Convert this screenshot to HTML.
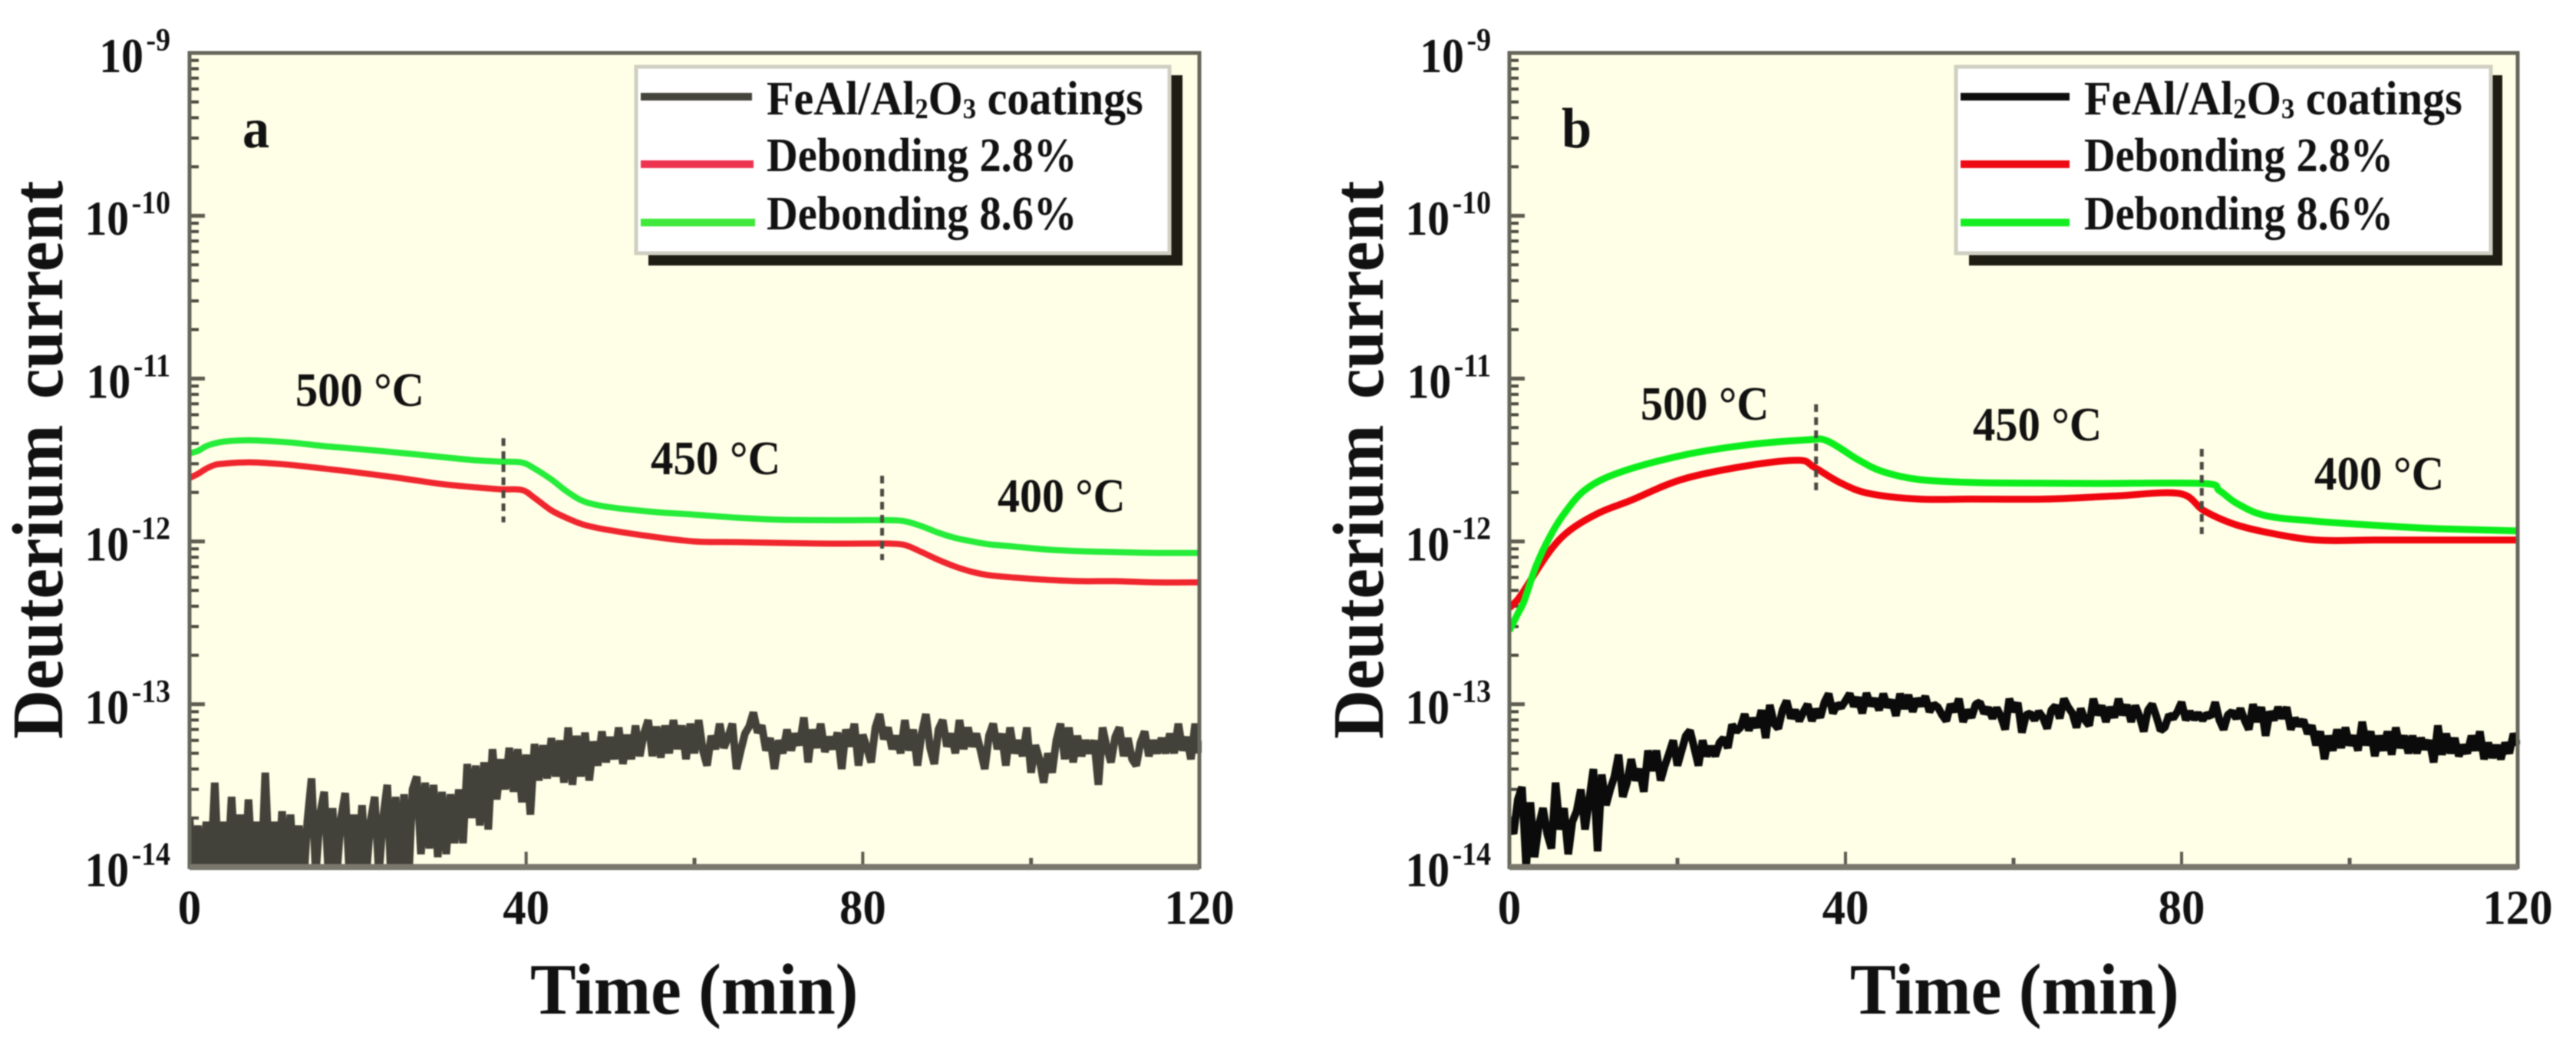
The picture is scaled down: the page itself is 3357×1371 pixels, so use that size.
<!DOCTYPE html>
<html lang="en">
<head>
<meta charset="utf-8">
<title>Deuterium current versus time</title>
<style>
html,body{margin:0;padding:0;background:#fff;width:3357px;height:1371px;overflow:hidden}
svg{display:block;filter:blur(0.9px)}
text{font-family:"Liberation Serif",serif;font-weight:bold;fill:#111}
</style>
</head>
<body>
<svg id="figure" xmlns="http://www.w3.org/2000/svg" width="3357" height="1371" viewBox="0 0 3357 1371">
  <rect x="0" y="0" width="3357" height="1371" fill="#fff"/>
  <g id="panel-a"></g>
  <g id="panel-b"></g>

  <g>
    <text transform="translate(316,192) scale(.95,1)" font-size="74">a</text>
    <text transform="translate(385,529) scale(.943,1)" font-size="62">500 °C</text>
    <text transform="translate(848,618) scale(.95,1)" font-size="62">450 °C</text>
    <text transform="translate(1300,667) scale(.935,1)" font-size="62">400 °C</text>
    <text transform="translate(81,963) rotate(-90) scale(.945,1)" font-size="94" word-spacing="12">Deuterium current</text>
    <text transform="translate(691,1321) scale(.95,1)" font-size="94">Time (min)</text>
  </g>
  <g>
    <rect x="845" y="98" width="696" height="248" fill="#1e1d14"/>
    <rect x="829" y="87" width="695" height="243" fill="#fff" stroke="#cfcfc2" stroke-width="5"/>
    <line x1="835" x2="980" y1="126" y2="126" stroke="#45443c" stroke-width="10"/>
    <line x1="835" x2="982" y1="214" y2="214" stroke="#ee3350" stroke-width="10"/>
    <line x1="835" x2="984" y1="290" y2="290" stroke="#3fe83a" stroke-width="10"/>
    <text transform="translate(999,149) scale(.936,1)" font-size="62">FeAl/Al<tspan font-size="37" dy="5">2</tspan><tspan dy="-5">O</tspan><tspan font-size="37" dy="5">3</tspan><tspan dy="-5"> coatings</tspan></text>
    <text transform="translate(999,223) scale(.91,1)" font-size="62">Debonding 2.8%</text>
    <text transform="translate(999,299) scale(.91,1)" font-size="62">Debonding 8.6%</text>
  </g>

  <g>
    <text transform="translate(2035,192) scale(.95,1)" font-size="74">b</text>
    <text transform="translate(2138,547) scale(.94,1)" font-size="62">500 °C</text>
    <text transform="translate(2571,574) scale(.945,1)" font-size="62">450 °C</text>
    <text transform="translate(3016,638) scale(.95,1)" font-size="62">400 °C</text>
    <text transform="translate(1802,963) rotate(-90) scale(.945,1)" font-size="94" word-spacing="12">Deuterium current</text>
    <text transform="translate(2411,1321) scale(.953,1)" font-size="94">Time (min)</text>
  </g>
  <g>
    <rect x="2566" y="98" width="695" height="248" fill="#1e1d14"/>
    <rect x="2549" y="87" width="697" height="243" fill="#fff" stroke="#cfcfc2" stroke-width="5"/>
    <line x1="2555" x2="2697" y1="126" y2="126" stroke="#0d0d0d" stroke-width="10"/>
    <line x1="2555" x2="2697" y1="214" y2="214" stroke="#ee0a14" stroke-width="10"/>
    <line x1="2555" x2="2697" y1="290" y2="290" stroke="#14ee20" stroke-width="10"/>
    <text transform="translate(2716,149) scale(.94,1)" font-size="62">FeAl/Al<tspan font-size="37" dy="5">2</tspan><tspan dy="-5">O</tspan><tspan font-size="37" dy="5">3</tspan><tspan dy="-5"> coatings</tspan></text>
    <text transform="translate(2716,223) scale(.907,1)" font-size="62">Debonding 2.8%</text>
    <text transform="translate(2716,299) scale(.907,1)" font-size="62">Debonding 8.6%</text>
  </g>
</svg>

<script>
// ---- axis data ----
var xMajorTicks = [0, 40, 80, 120];
var xMinorTicks = [20, 60, 100];
var yExponents = [-9, -10, -11, -12, -13, -14];
var yMinorMultipliers = [2, 3, 4, 5, 6, 7, 8, 9];

// ---- panel a: smooth curves (A) ----
var greenTimesA = [0,1,2,3,4,6,8,12,16,20,25,30,34,37,39.5,41,43,45,47,50,55,60,65,70,75,80,83,85,87,89,91,93,95,98,102,106,110,115,120];
var greenValuesA = [3.47,3.6,3.85,4.0,4.1,4.17,4.17,4.05,3.85,3.7,3.5,3.3,3.15,3.09,3.05,2.8,2.4,2.0,1.75,1.62,1.52,1.46,1.4,1.36,1.35,1.35,1.35,1.33,1.24,1.13,1.05,1.0,0.96,0.93,0.89,0.87,0.86,0.85,0.85];
var redTimesA = [0,1,2,3,4,6,8,12,16,20,25,30,34,37,39.5,41,43,45,47,50,55,60,65,70,75,80,83,85,87,89,91,93,95,98,102,106,110,115,120];
var redValuesA = [2.45,2.6,2.8,2.95,3.0,3.05,3.05,2.95,2.8,2.65,2.45,2.25,2.15,2.09,2.07,1.85,1.55,1.38,1.26,1.17,1.07,1.0,0.99,0.98,0.97,0.97,0.97,0.95,0.86,0.77,0.70,0.65,0.62,0.60,0.58,0.57,0.57,0.56,0.56];

// panel a coating signal, one reading per half minute, units of 1e-14
var coatingValuesA = [
2.0,0.9,1.8,0.8,1.9,0.9,3.3,0.8,1.9,0.9,
2.7,0.9,2.1,0.8,2.6,0.9,1.9,0.8,3.8,0.9,
1.9,0.8,2.2,0.9,2.1,0.8,1.8,0.7,1.9,3.5,
0.9,2.1,2.9,0.9,2.3,0.9,2.0,2.85,0.9,2.1,
0.9,2.4,0.9,1.9,2.7,0.9,2.0,3.2,0.7,2.7,
0.8,2.8,0.75,3.0,3.6,1.2,3.3,1.3,3.2,1.15,
2.9,1.2,2.8,1.4,3.0,1.4,4.3,2.0,4.2,1.8,
4.4,1.7,5.3,2.6,4.6,3.0,5.4,2.9,5.3,2.5,
4.9,2.1,5.7,3.4,5.6,3.5,6.2,3.6,6.0,3.3,
7.2,3.2,6.4,3.6,6.7,3.4,5.9,4.2,6.8,4.4,
6.3,4.6,7.2,4.3,6.5,4.6,7.4,4.8,6.6,8.0,
4.8,7.3,4.7,7.4,5.0,8.0,5.3,7.4,4.6,7.6,
5.0,8.0,5.2,4.2,6.4,5.3,7.6,5.4,6.3,7.6,
4.0,5.2,6.6,7.3,8.9,6.7,7.4,5.2,6.2,4.0,
6.0,5.0,7.0,5.2,6.6,5.6,8.3,4.4,7.0,5.4,
7.6,5.1,6.3,5.3,6.7,4.0,7.0,5.5,7.6,4.2,
6.5,5.4,4.4,7.2,8.7,6.1,7.2,5.3,6.4,5.0,
8.0,5.2,7.0,4.2,6.6,8.7,5.4,4.3,7.0,8.0,
5.5,6.6,5.0,8.0,5.3,7.2,5.5,6.6,5.2,4.0,
6.4,7.6,5.3,6.6,4.2,7.2,5.0,6.0,4.8,7.2,
3.8,5.6,4.6,3.3,5.0,3.8,6.0,7.6,4.6,7.2,
4.4,6.4,4.8,6.0,5.0,6.0,3.2,7.2,5.4,4.4,
6.3,7.2,4.8,6.2,4.6,4.2,5.8,6.8,4.8,6.0,
5.0,6.2,5.0,6.6,5.0,7.6,5.2,6.3,4.6,7.6,
5.0];

// ---- panel b: smooth curves (B) ----
var greenTimesB = [0,1,1.75,3.2,4.9,6.6,9.1,13.1,20.5,28,35.4,37.8,41.4,44.3,48.7,55,61,70,82.6,84.5,86.6,90,96,103.6,110,120];
var greenValuesB = [0.283,0.36,0.43,0.71,1.09,1.5,2.09,2.65,3.37,3.9,4.2,4.15,3.2,2.7,2.4,2.3,2.28,2.27,2.27,2.05,1.71,1.44,1.33,1.25,1.2,1.16];
var redTimesB = [0,1,1.75,4.8,7.2,10.7,14.6,20.5,28,34.4,36.3,39.4,42.8,48.7,55,63.7,72,79.7,82.6,86,90,96,103,110,120];
var redValuesB = [0.39,0.44,0.5,0.87,1.17,1.5,1.8,2.4,2.9,3.15,2.85,2.29,1.97,1.82,1.82,1.82,1.9,1.97,1.55,1.29,1.14,1.02,1.02,1.02,1.02];

// panel b coating signal, one reading per half minute, units of 1e-14
var coatingValuesB = [
1.9,1.6,2.6,3.1,1.0,2.5,1.15,1.8,2.3,1.6,
1.3,3.3,1.7,2.3,1.2,1.9,2.2,3.0,1.7,2.6,
4.0,1.25,3.7,2.4,3.0,3.6,4.9,2.7,3.3,4.6,
3.4,4.0,2.9,5.2,3.9,5.2,3.4,4.2,5.0,6.0,
4.2,5.2,6.4,6.9,5.4,4.2,6.0,4.8,5.5,4.8,
5.8,6.2,5.4,7.5,6.8,7.2,8.7,6.9,8.2,7.2,
9.2,6.2,9.9,7.6,7.1,9.2,10.5,8.2,9.2,7.9,
9.0,10,7.9,9.3,8.3,10.3,11.6,8.8,10,9.6,
10.5,11.6,9.7,11,8.8,11.7,9.8,10.8,9.2,11.6,
9.6,10.6,8.5,11.6,9.4,11.4,9.0,10.8,9.8,11.2,
9.0,10,9.6,8.6,7.9,10,9.0,10.8,7.8,9.2,
8.3,10,10.3,8.8,9.5,8.2,9.5,8.4,7.0,10.8,
9.0,10.2,6.7,8.6,8.8,8.0,9.0,8.3,7.1,9.2,
9.8,8.2,10.8,9.6,8.8,7.2,9.4,8.0,7.4,10.8,
8.6,9.8,7.8,9.6,8.3,10.8,8.6,9.9,7.8,9.8,
8.4,6.8,9.2,10,8.4,6.9,7.2,8.6,8.2,9.0,
10.3,8.0,9.0,8.1,8.8,8.0,8.7,8.4,10.3,8.0,
7.0,8.6,9.0,8.2,9.4,8.0,7.0,10,7.8,9.6,
6.4,9.0,8.0,9.6,8.2,9.6,7.0,8.2,7.4,8.0,
6.6,7.4,5.6,6.8,4.6,6.4,5.2,7.0,5.4,7.2,
5.6,6.4,5.2,7.8,5.6,6.8,4.8,6.4,5.2,6.8,
4.9,7.2,5.4,6.4,5.0,6.4,5.0,6.2,5.3,6.0,
4.4,7.4,4.9,6.6,5.0,6.2,4.8,5.6,5.0,6.4,
5.2,6.8,4.6,5.8,4.7,5.6,4.6,5.8,5.0,6.6,
5.6];

// temperature step markers: [time, upper current, lower current]
var stepMarkersA = [[37.3, 4.3e-12, 1.31e-12], [82.3, 2.53e-12, 7.67e-13]];
var stepMarkersB = [[36.5, 6.95e-12, 2.04e-12], [82.4, 3.7e-12, 1.11e-12]];

var NS = 'http://www.w3.org/2000/svg';
var TOP = 69, BOTTOM = 1130, PLOT_H = BOTTOM - TOP;
var sampleStep = 0.5;

function mk(parent, tag) {
  var el = document.createElementNS(NS, tag);
  parent.appendChild(el);
  return el;
}

// Catmull-Rom path through the mapped data points
function smoothPath(xs, ys) {
  var d = 'M' + xs[0].toFixed(1) + ' ' + ys[0].toFixed(1);
  for (var i = 0; i < xs.length - 1; i++) {
    var p0 = Math.max(i - 1, 0), p3 = Math.min(i + 2, xs.length - 1);
    var c1x = xs[i] + (xs[i + 1] - xs[p0]) / 6;
    var c1y = ys[i] + (ys[i + 1] - ys[p0]) / 6;
    var c2x = xs[i + 1] - (xs[p3] - xs[i]) / 6;
    var c2y = ys[i + 1] - (ys[p3] - ys[i]) / 6;
    d += 'C' + c1x.toFixed(1) + ' ' + c1y.toFixed(1) + ' ' + c2x.toFixed(1) + ' ' + c2y.toFixed(1) + ' ' + xs[i + 1].toFixed(1) + ' ' + ys[i + 1].toFixed(1);
  }
  return d;
}

function drawPanel(cfg) {
  var root = document.getElementById(cfg.id);
  var xScale = function (t) { return cfg.left + (t / 120) * (cfg.right - cfg.left); };
  var yScale = function (v) { return TOP + (-9 - Math.log10(v)) / 5 * PLOT_H; };
  var w = cfg.right - cfg.left;
  var el, i;

  el = mk(root, 'rect');
  
  
  el.setAttribute('x', cfg.left);
  el.setAttribute('y', TOP);
  el.setAttribute('width', w);
  el.setAttribute('height', PLOT_H);
  el.setAttribute('fill', '#fffee6');

  var defs = mk(root, 'defs');
  var clip = mk(defs, 'clipPath');
  clip.setAttribute('id', cfg.id + '-clip');
  var clipRect = mk(clip, 'rect');
  clipRect.setAttribute('x', cfg.left);
  clipRect.setAttribute('y', TOP);
  clipRect.setAttribute('width', w + 3);
  clipRect.setAttribute('height', PLOT_H);

  // y ticks
  yExponents.forEach(function (exp, idx) {
    var yy = yScale(Math.pow(10, exp));
    var t = mk(root, 'line');
    
    
    t.setAttribute('x1', cfg.left);
    t.setAttribute('x2', cfg.left + 20);
    t.setAttribute('y1', yy);
    t.setAttribute('y2', yy);
    t.setAttribute('stroke', '#5c5b50');
    t.setAttribute('stroke-width', 5);

    var lab = mk(root, 'text');
    
    
    lab.setAttribute('text-anchor', 'end');
    lab.setAttribute('font-size', 64);
    lab.setAttribute('transform', 'translate(' + cfg.yLabelRight + ',' + (yy + 25) + ') scale(.9,1)');
    lab.appendChild(document.createTextNode('10'));
    var sup = mk(lab, 'tspan');
    sup.setAttribute('dy', -28);
    sup.setAttribute('dx', 4);
    sup.setAttribute('font-size', 42);
    sup.textContent = String(exp);

    if (idx < yExponents.length - 1) {
      yMinorMultipliers.forEach(function (m) {
        var my = yScale(m * Math.pow(10, exp - 1));
        var mt = mk(root, 'line');
        
        
        mt.setAttribute('x1', cfg.left);
        mt.setAttribute('x2', cfg.left + 12);
        mt.setAttribute('y1', my);
        mt.setAttribute('y2', my);
        mt.setAttribute('stroke', '#4a4a40');
        mt.setAttribute('stroke-width', 4);
      });
    }
  });

  // x ticks
  xMajorTicks.forEach(function (tv) {
    var xx = xScale(tv);
    var t = mk(root, 'line');
    
    
    t.setAttribute('x1', xx);
    t.setAttribute('x2', xx);
    t.setAttribute('y1', BOTTOM);
    t.setAttribute('y2', BOTTOM - 20);
    t.setAttribute('stroke', '#5c5b50');
    t.setAttribute('stroke-width', 4);

    var lab = mk(root, 'text');
    
    
    lab.setAttribute('text-anchor', 'middle');
    lab.setAttribute('font-size', 64);
    lab.setAttribute('transform', 'translate(' + xx + ',1204) scale(.95,1)');
    lab.textContent = String(tv);
  });
  xMinorTicks.forEach(function (tv) {
    var xx = xScale(tv);
    var t = mk(root, 'line');
    
    
    t.setAttribute('x1', xx);
    t.setAttribute('x2', xx);
    t.setAttribute('y1', BOTTOM);
    t.setAttribute('y2', BOTTOM - 12);
    t.setAttribute('stroke', '#5c5b50');
    t.setAttribute('stroke-width', 5);
  });

  var series = mk(root, 'g');
  
  
  series.setAttribute('clip-path', 'url(#' + cfg.id + '-clip)');

  // coating noise trace
  var pts = [];
  for (i = 0; i < cfg.coating.length; i++) {
    pts.push(xScale(i * sampleStep).toFixed(1) + ',' + yScale(cfg.coating[i] * 1e-14).toFixed(1));
  }
  var coat = mk(series, 'polyline');
  
  
  coat.setAttribute('points', pts.join(' '));
  coat.setAttribute('fill', 'none');
  coat.setAttribute('stroke', cfg.coatingColor);
  coat.setAttribute('stroke-width', cfg.coatingWidth);
  coat.setAttribute('stroke-linejoin', 'bevel');

  // debonding 2.8 %
  var red = mk(series, 'path');
  
  
  red.setAttribute('d', smoothPath(cfg.redT.map(xScale), cfg.redV.map(function (v) { return yScale(v * 1e-12); })));
  red.setAttribute('fill', 'none');
  red.setAttribute('stroke', cfg.redColor);
  red.setAttribute('stroke-width', cfg.curveWidth);

  // debonding 8.6 %
  var green = mk(series, 'path');
  
  
  green.setAttribute('d', smoothPath(cfg.greenT.map(xScale), cfg.greenV.map(function (v) { return yScale(v * 1e-12); })));
  green.setAttribute('fill', 'none');
  green.setAttribute('stroke', cfg.greenColor);
  green.setAttribute('stroke-width', cfg.curveWidth);

  // step markers
  cfg.markers.forEach(function (m) {
    var d = mk(root, 'line');
    
    
    d.setAttribute('x1', xScale(m[0]));
    d.setAttribute('x2', xScale(m[0]));
    d.setAttribute('y1', yScale(m[1]));
    d.setAttribute('y2', yScale(m[2]));
    d.setAttribute('stroke', '#4a4a42');
    d.setAttribute('stroke-width', 5);
    d.setAttribute('stroke-dasharray', '10 7');
  });

  // frame
  var frame = mk(root, 'rect');
  
  
  frame.setAttribute('x', cfg.left);
  frame.setAttribute('y', TOP);
  frame.setAttribute('width', w);
  frame.setAttribute('height', PLOT_H);
  frame.setAttribute('fill', 'none');
  frame.setAttribute('stroke', '#66655a');
  frame.setAttribute('stroke-width', 5);

  var base = mk(root, 'line');
  
  
  base.setAttribute('x1', cfg.left);
  base.setAttribute('x2', cfg.right);
  base.setAttribute('y1', BOTTOM);
  base.setAttribute('y2', BOTTOM);
  base.setAttribute('stroke', '#7a786c');
  base.setAttribute('stroke-width', 8);
}

drawPanel({
  id: 'panel-a', left: 247, right: 1563, yLabelRight: 222,
  coating: coatingValuesA, coatingColor: '#43423a', coatingWidth: 10,
  redT: redTimesA, redV: redValuesA, redColor: '#f0262e',
  greenT: greenTimesA, greenV: greenValuesA, greenColor: '#26ec3a',
  curveWidth: 8, markers: stepMarkersA
});
drawPanel({
  id: 'panel-b', left: 1967, right: 3281, yLabelRight: 1943,
  coating: coatingValuesB, coatingColor: '#0b0b0b', coatingWidth: 10,
  redT: redTimesB, redV: redValuesB, redColor: '#f0060f',
  greenT: greenTimesB, greenV: greenValuesB, greenColor: '#0cee1c',
  curveWidth: 9, markers: stepMarkersB
});
</script>
</body>
</html>
